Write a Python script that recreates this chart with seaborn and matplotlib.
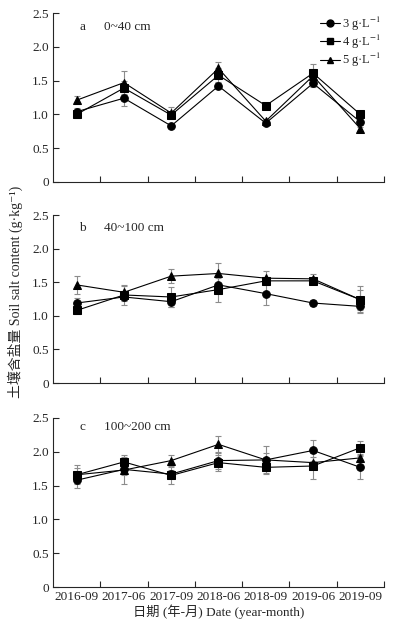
import numpy as np
import pandas as pd
import matplotlib
matplotlib.use("Agg")
import matplotlib.pyplot as plt
import seaborn as sns
from matplotlib.lines import Line2D

dates = ["2016-09", "2017-06", "2017-09", "2018-06", "2018-09", "2019-06", "2019-09"]
treatments = ["3 g·L$^{-1}$", "4 g·L$^{-1}$", "5 g·L$^{-1}$"]
panel_labels = ["a", "b", "c"]
depths = ["0~40 cm", "40~100 cm", "100~200 cm"]
yticks = [0, 0.5, 1.0, 1.5, 2.0, 2.5]
ytick_labels = ["0", "0.5", "1.0", "1.5", "2.0", "2.5"]

# 0-40 cm
a_3 = [1.04, 1.24, 0.83, 1.42, 0.87, 1.46, 0.89]
a_4 = [1.00, 1.39, 0.99, 1.58, 1.13, 1.61, 1.00]
a_5 = [1.21, 1.47, 1.02, 1.68, 0.90, 1.57, 0.79]
a_3_err = [0.05, 0.12, 0.03, 0.04, 0.03, 0.06, 0.04]
a_4_err = [0.05, 0.10, 0.05, 0.10, 0.03, 0.13, 0.03]
a_5_err = [0.06, 0.17, 0.09, 0.10, 0.03, 0.10, 0.03]

# 40-100 cm
b_3 = [1.19, 1.28, 1.21, 1.46, 1.33, 1.19, 1.14]
b_4 = [1.08, 1.31, 1.28, 1.39, 1.52, 1.52, 1.24]
b_5 = [1.46, 1.35, 1.59, 1.63, 1.56, 1.55, 1.24]
b_3_err = [0.08, 0.06, 0.08, 0.10, 0.17, 0.05, 0.08]
b_4_err = [0.05, 0.15, 0.15, 0.19, 0.05, 0.05, 0.20]
b_5_err = [0.13, 0.10, 0.10, 0.16, 0.10, 0.07, 0.15]

# 100-200 cm
c_3 = [1.58, 1.74, 1.67, 1.87, 1.88, 2.02, 1.77]
c_4 = [1.66, 1.85, 1.65, 1.84, 1.77, 1.79, 2.06]
c_5 = [1.66, 1.73, 1.87, 2.11, 1.88, 1.84, 1.91]
c_3_err = [0.12, 0.08, 0.06, 0.12, 0.20, 0.16, 0.17]
c_4_err = [0.14, 0.10, 0.12, 0.12, 0.10, 0.19, 0.10]
c_5_err = [0.10, 0.20, 0.08, 0.13, 0.10, 0.08, 0.06]

means = [[a_3, a_4, a_5], [b_3, b_4, b_5], [c_3, c_4, c_5]]
errs = [[a_3_err, a_4_err, a_5_err], [b_3_err, b_4_err, b_5_err], [c_3_err, c_4_err, c_5_err]]

sns.set_style("ticks")
plt.rcParams["font.family"] = ["Liberation Serif", "Noto Sans CJK SC", "DejaVu Sans"]
plt.rcParams["mathtext.fontset"] = "stix"

markers = {treatments[0]: "o", treatments[1]: "s", treatments[2]: "^"}

fig = plt.figure(figsize=(3.94, 6.25), dpi=100)
boxes = [(0.7088, 0.2704), (0.3872, 0.2688), (0.0608, 0.2704)]
axes = [fig.add_axes([0.1345, b, 0.84, h]) for b, h in boxes]

x = np.arange(len(dates))
for i, ax in enumerate(axes):
    rows = []
    for t, vals in zip(treatments, means[i]):
        for d, v in zip(dates, vals):
            rows.append({"date": d, "treat": t, "salt": v})
    df = pd.DataFrame(rows)

    # grey error bars under the lines
    for j, t in enumerate(treatments):
        ax.errorbar(x, means[i][j], yerr=errs[i][j], fmt="none", ecolor="#8c8c8c",
                    elinewidth=0.8, capsize=2, capthick=0.8, zorder=1)
    sns.lineplot(data=df, x="date", y="salt", style="treat", markers=markers, dashes=False,
                 color="black", linewidth=0.8, markersize=5.5, markeredgecolor="black",
                 ax=ax, legend=False, zorder=3)

    ax.set_xlim(-0.5, 6.5)
    ax.set_ylim(0, 2.5)
    ax.set_yticks(yticks)
    ax.set_yticklabels(ytick_labels)
    ax.set_xticks(x)
    ax.set_xticks(np.arange(0.5, 6.6, 1), minor=True)
    ax.tick_params(axis="x", which="major", length=0, labelsize=9.5, pad=3)
    ax.tick_params(axis="x", which="minor", direction="in", length=4, width=0.8)
    ax.tick_params(axis="y", direction="in", length=4, width=0.8, labelsize=9.5, pad=3)
    if i < 2:
        ax.set_xticklabels([])
    else:
        ax.set_xticklabels(dates)
    ax.set_xlabel("")
    ax.set_ylabel("")
    sns.despine(ax=ax)
    for s in ["left", "bottom"]:
        ax.spines[s].set_linewidth(0.8)
    ty = 0.945 if i == 2 else 0.92
    ax.text(0.08, ty, panel_labels[i], transform=ax.transAxes, fontsize=9.5, va="center")
    ax.text(0.155, ty, depths[i], transform=ax.transAxes, fontsize=9.5, va="center")

handles = [Line2D([0], [0], color="black", lw=0.8, marker=markers[t], markersize=5) for t in treatments]
axes[0].legend(handles, treatments, loc="upper right", bbox_to_anchor=(1.015, 1.035), frameon=False,
               fontsize=9, handlelength=1.6, handletextpad=0.2, labelspacing=0.0, borderaxespad=0.2)

axes[2].set_xlabel("日期 (年-月) Date (year-month)", fontsize=9.5, labelpad=1)
fig.text(0.038, 0.533, "土壤含盐量 Soil salt content (g·kg⁻¹)", rotation=90,
         va="center", ha="center", fontsize=10)

fig.savefig("out.png", dpi=100)
